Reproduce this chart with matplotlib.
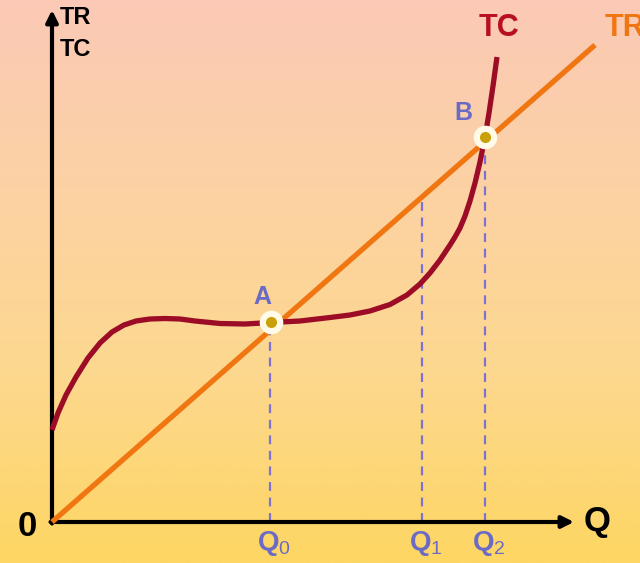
"""Total revenue / total cost diagram with break-even points A and B."""
import matplotlib

matplotlib.use("Agg")
import matplotlib.pyplot as plt
import numpy as np
from matplotlib.colors import LinearSegmentedColormap

plt.rcParams["font.family"] = ["Liberation Sans", "DejaVu Sans"]
plt.rcParams["mathtext.fontset"] = "custom"
plt.rcParams["mathtext.rm"] = "Liberation Sans"
plt.rcParams["mathtext.bf"] = "Liberation Sans:bold"

# --- data (units) ---
tc_q = [0, 0.6, 1.4, 2.4, 3.6, 4.8, 6.0, 7.2, 8.4, 9.8, 11.3, 12.8, 14.3,
        16.8, 19.3, 21.9, 24.8, 27.8, 29.8, 31.8, 33.8, 35.5, 36.8, 37.8,
        38.8, 39.8, 40.3, 40.8, 41.3, 41.8, 42.3, 42.8, 43.3, 43.7, 44.1,
        44.5]
tc_cost = [9.2, 10.9, 12.7, 14.5, 16.4, 17.9, 19.0, 19.7, 20.1, 20.3, 20.35,
           20.3, 20.1, 19.85, 19.8, 19.95, 20.1, 20.45, 20.7, 21.1, 21.75,
           22.7, 23.8, 24.9, 26.2, 27.7, 28.5, 29.4, 30.6, 32.1, 33.9, 36.0,
           38.5, 40.9, 43.6, 46.5]
tr_q = [0, 54.3]
tr_rev = [0, 47.7]

q_marks = [21.8, 37.0, 43.3]
q_labels = ["0", "1", "2"]
q_tops = [20.0, 32.5, 38.5]  # where each dashed guide stops

points_q = [21.9, 43.3]
points_y = [20.0, 38.5]
point_names = ["A", "B"]

TR_COLOR = "#f07612"
TC_COLOR = "#9c0c26"
GUIDE = "#7d72d2"
LABEL = "#6b6bc6"

fig = plt.figure(figsize=(6.4, 5.63), dpi=100)
ax = fig.add_axes([0, 0, 1, 1])
ax.set_xlim(-5.2, 58.8)
ax.set_ylim(-4.1, 52.2)
ax.axis("off")

# soft pink -> yellow background
bg = LinearSegmentedColormap.from_list(
    "bg", ["#fdd663", "#fdd88e", "#fcd2a4", "#fbc9b6"])
grad = np.linspace(0, 1, 256).reshape(-1, 1)
ax.imshow(grad, cmap=bg, aspect="auto", origin="lower",
          extent=(-5.2, 58.8, -4.1, 52.2), zorder=0)

# axes with arrow heads
arrow = dict(arrowstyle="-|>,head_length=0.7,head_width=0.35",
             color="black", lw=3, shrinkA=0, shrinkB=0)
ax.annotate("", xy=(0, 51.2), xytext=(0, -0.15), arrowprops=arrow, zorder=3)
ax.annotate("", xy=(52.2, 0), xytext=(-0.15, 0), arrowprops=arrow, zorder=3)

# dashed guides
for q, top in zip(q_marks, q_tops):
    ax.plot([q, q], [0, top], color=GUIDE, lw=1.6, ls=(0, (4, 3)), zorder=2)

ax.plot(tr_q, tr_rev, color=TR_COLOR, lw=3.8, solid_capstyle="butt", zorder=4)
ax.plot(tc_q, tc_cost, color=TC_COLOR, lw=3.8, solid_capstyle="butt",
        solid_joinstyle="round", zorder=5)

# break-even points
ax.plot(points_q, points_y, "o", ms=17, mfc="#fffbe8", mec="none", zorder=6)
ax.plot(points_q, points_y, "o", ms=8, mfc="#c9a007", mec="none", zorder=7)

bold = dict(fontweight="bold")
ax.text(0.8, 50.4, "TR", fontsize=17, va="center", ha="left", **bold)
ax.text(0.8, 47.2, "TC", fontsize=17, va="center", ha="left", **bold)
ax.text(44.7, 49.4, "TC", fontsize=22, color="#b80f22", va="center",
        ha="center", **bold)
ax.text(55.3, 49.4, "TR", fontsize=22, color=TR_COLOR, va="center",
        ha="left", **bold)
ax.text(-2.5, -0.5, "0", fontsize=25, va="center", ha="center", **bold)
ax.text(54.5, 0, "Q", fontsize=25, va="center", ha="center", **bold)

label_pos = [(21.0, 22.5), (41.1, 40.9)]
for name, (x, y) in zip(point_names, label_pos):
    ax.text(x, y, name, fontsize=18, color=LABEL, va="center", ha="center",
            **bold)

for q, sub in zip(q_marks, q_labels):
    ax.text(q + 0.4, -2.1, r"$\mathbf{Q}_{\mathrm{%s}}$" % sub, fontsize=20,
            color=LABEL, va="center", ha="center")

fig.savefig("out.png", dpi=100)
plt.close(fig)
